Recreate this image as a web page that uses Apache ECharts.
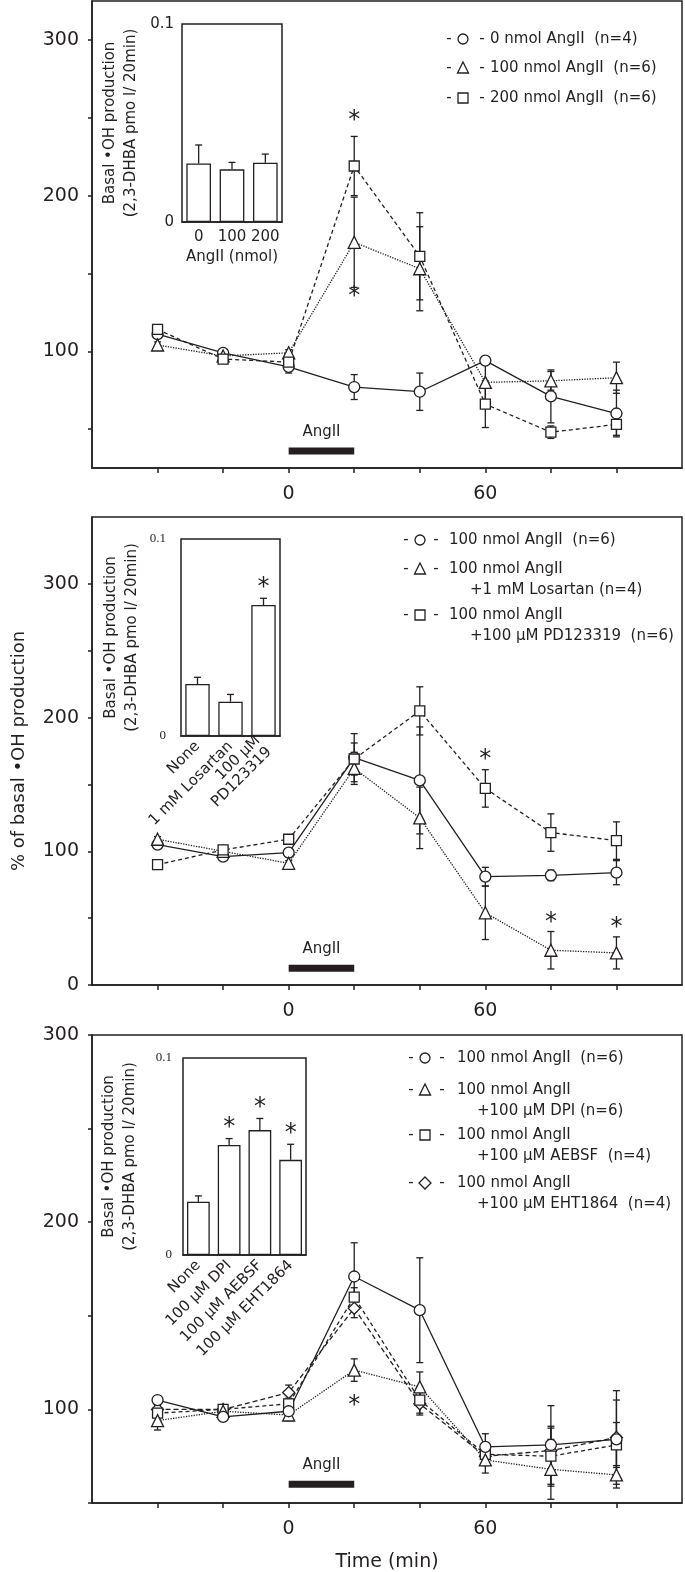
<!DOCTYPE html>
<html lang="en">
<head>
<meta charset="UTF-8">
<title>AngII OH production</title>
<script src="https://cdn.jsdelivr.net/npm/echarts@6/dist/echarts.min.js"></script>
<style>
  html, body { margin: 0; padding: 0; background: #fff; }
</style>
</head>
<body>
<div id="main" style="width:685px;height:1572px;"></div>
<script>
// time points (min)
var times = [-40, -20, 0, 20, 40, 60, 80, 100];

// panel 1: AngII dose
var p1Ang0 = [111, 99, 90, 77, 74, 94, 71, 60];
var p1Ang0Err = [2, 2, 4, 8, 12, 2, 17, 15];
var p1Ang100 = [104, 97, 99, 170, 153, 80, 81, 83];
var p1Ang100Err = [2, 2, 2, 29, 27, 12, 6, 10];
var p1Ang200 = [114, 95, 93, 219, 161, 66, 48, 53];
var p1Ang200Err = [2, 2, 3, 19, 28, 15, 4, 7];
var p1Stars = [[20, 252], [20, 139]];
var p1Legend = [['0 nmol AngII  (n=4)'], ['100 nmol AngII  (n=6)'], ['200 nmol AngII  (n=6)']];

// panel 2: losartan / PD123319
var p2Ang = [105, 96, 99, 170, 153, 81, 82, 84];
var p2AngErr = [2, 2, 3, 18, 40, 7, 4, 9];
var p2Los = [109, 100, 91, 162, 125, 54, 26, 24];
var p2LosErr = [2, 2, 2, 12, 23, 20, 14, 12];
var p2PD = [90, 101, 109, 169, 205, 147, 114, 108];
var p2PDErr = [2, 2, 2, 12, 18, 14, 14, 14];
var p2Stars = [[60, 173], [80, 51], [100, 47]];
var p2Legend = [['100 nmol AngII  (n=6)'], ['100 nmol AngII', '+1 mM Losartan (n=4)'], ['100 nmol AngII', '+100 µM PD123319  (n=6)']];

// panel 3: DPI / AEBSF / EHT1864
var p3Ang = [105, 96, 99, 171, 153, 80, 81, 84];
var p3AngErr = [2, 2, 2, 18, 28, 7, 21, 26];
var p3DPI = [94, 99, 97, 121, 112, 73, 68, 65];
var p3DPIErr = [5, 2, 3, 6, 8, 7, 16, 5];
var p3AEBSF = [98, 100, 103, 160, 105, 76, 75, 81];
var p3AEBSFErr = [4, 2, 3, 5, 7, 4, 16, 12];
var p3EHT = [100, 100, 109, 154, 103, 75, 78, 85];
var p3EHTErr = [3, 2, 4, 5, 6, 5, 12, 20];
var p3Stars = [[20, 105]];
var p3Legend = [['100 nmol AngII  (n=6)'], ['100 nmol AngII', '+100 µM DPI (n=6)'], ['100 nmol AngII', '+100 µM AEBSF  (n=4)'], ['100 nmol AngII', '+100 µM EHT1864  (n=4)']];

// AngII application bar: [start, end, level] per panel
var angBars = [[0, 20, 36], [0, 20, 12.5], [0, 20, 60]];

// insets: basal OH production
var i1Cats = ['0', '100', '200'];
var i1Vals = [0.0296, 0.0266, 0.0299];
var i1Err = [0.0093, 0.0035, 0.0044];
var i1Stars = [];
var i2Cats = ['None', '1 mM Losartan', '100 µM\nPD123319'];
var i2Vals = [0.0264, 0.0174, 0.0665];
var i2Err = [0.0034, 0.0037, 0.0034];
var i2Stars = [2];
var i3Cats = ['None', '100 µM DPI', '100 µM AEBSF', '100 µM EHT1864'];
var i3Vals = [0.027, 0.0559, 0.0634, 0.0483];
var i3Err = [0.003, 0.0032, 0.0059, 0.0079];
var i3Stars = [1, 2, 3];

var INK = '#231f20';
var FONT = '"DejaVu Sans", sans-serif';

var chart = echarts.init(document.getElementById('main'));

function mainX(idx, withName) {
    var ax = {
        type: 'value', gridIndex: idx, min: -60, max: 120, interval: 20, position: 'bottom',
        axisLine: { onZero: false, lineStyle: { color: INK, width: 1.5 } },
        axisTick: { length: 5, lineStyle: { color: INK, width: 1.5 }, customValues: [-40, -20, 0, 20, 40, 60, 80, 100] },
        axisLabel: { customValues: [0, 60], fontSize: 19, color: INK, margin: 17, fontFamily: FONT },
        splitLine: { show: false }
    };
    if (withName) {
        ax.name = 'Time (min)';
        ax.nameLocation = 'middle';
        ax.nameGap = 50;
        ax.nameMoveOverlap = false;
        ax.nameTextStyle = { fontSize: 19, color: INK, fontFamily: FONT };
    }
    return ax;
}

function mainY(idx, min, max, ticks, labels, withName) {
    var ax = {
        type: 'value', gridIndex: idx, min: min, max: max, position: 'left',
        axisLine: { onZero: false, lineStyle: { color: INK, width: 1.5 } },
        axisTick: { length: 4, lineStyle: { color: INK, width: 1.5 }, customValues: ticks },
        axisLabel: { customValues: labels, fontSize: 19, color: INK, margin: 13, fontFamily: FONT },
        splitLine: { show: false }
    };
    if (withName) {
        ax.name = '% of basal •OH production';
        ax.nameLocation = 'middle';
        ax.nameGap = 64;
        ax.nameMoveOverlap = false;
        ax.nameTextStyle = { fontSize: 18, color: INK, fontFamily: FONT };
    }
    return ax;
}

function insetX(idx, cats, rotate, name) {
    var ax = {
        type: 'category', gridIndex: idx, data: cats, position: 'bottom',
        axisLine: { onZero: false, lineStyle: { color: INK, width: 1.5 } },
        axisTick: { show: false },
        axisLabel: { rotate: rotate, fontSize: 15, color: INK, margin: rotate ? 8 : 7, fontFamily: FONT, interval: 0, lineHeight: 16 }
    };
    if (name) {
        ax.name = name;
        ax.nameLocation = 'middle';
        ax.nameGap = 28;
        ax.nameMoveOverlap = false;
        ax.nameTextStyle = { fontSize: 15, color: INK, fontFamily: FONT };
    }
    return ax;
}

function insetY(idx, serif, gap, margin) {
    return {
        type: 'value', gridIndex: idx, min: 0, max: 0.1, interval: 0.05, position: 'left',
        axisLine: { onZero: false, lineStyle: { color: INK, width: 1.5 } },
        axisTick: { length: 4, lineStyle: { color: INK, width: 1.3 } },
        axisLabel: {
            customValues: [0, 0.1], color: INK, margin: margin,
            fontSize: serif ? 13 : 15,
            fontFamily: serif ? '"Liberation Serif", serif' : FONT
        },
        splitLine: { show: false },
        name: 'Basal •OH production\n(2,3-DHBA pmo l/ 20min)',
        nameLocation: 'middle', nameGap: gap, nameMoveOverlap: false,
        nameTextStyle: { fontSize: 15, lineHeight: 21, color: INK, fontFamily: FONT, align: 'center' }
    };
}

function lineSeries(idx, vals, symbol, size, dash) {
    return {
        type: 'line', xAxisIndex: idx, yAxisIndex: idx,
        data: times.map(function (t, i) { return [t, vals[i]]; }),
        symbol: symbol, symbolSize: size, showAllSymbol: true,
        lineStyle: { color: INK, width: 1.3, type: dash },
        itemStyle: { color: '#fff', borderColor: INK, borderWidth: 1.3 },
        z: 4, silent: true
    };
}

function errSeries(idx, vals, errs) {
    return {
        type: 'custom', xAxisIndex: idx, yAxisIndex: idx, z: 2, silent: true,
        data: times.map(function (t, i) { return [t, vals[i], errs[i]]; }),
        renderItem: function (params, api) {
            var x = api.value(0), y = api.value(1), e = api.value(2);
            var top = api.coord([x, y + e]), bot = api.coord([x, y - e]);
            var st = { stroke: INK, lineWidth: 1.3 };
            return {
                type: 'group', children: [
                    { type: 'line', shape: { x1: top[0], y1: top[1], x2: bot[0], y2: bot[1] }, style: st },
                    { type: 'line', shape: { x1: top[0] - 3.5, y1: top[1], x2: top[0] + 3.5, y2: top[1] }, style: st },
                    { type: 'line', shape: { x1: bot[0] - 3.5, y1: bot[1], x2: bot[0] + 3.5, y2: bot[1] }, style: st }
                ]
            };
        }
    };
}

function starSeries(idx, pts) {
    return {
        type: 'custom', xAxisIndex: idx, yAxisIndex: idx, z: 5, silent: true,
        data: pts,
        renderItem: function (params, api) {
            var p = api.coord([api.value(0), api.value(1)]);
            return { type: 'text', x: p[0], y: p[1] + 6, style: { text: '*', font: '24px ' + FONT, fill: INK, align: 'center', verticalAlign: 'middle' } };
        }
    };
}

function angSeries(idx, bar) {
    return {
        type: 'custom', xAxisIndex: idx, yAxisIndex: idx, z: 3, silent: true,
        data: [bar],
        renderItem: function (params, api) {
            var a = api.coord([api.value(0), api.value(2)]);
            var b = api.coord([api.value(1), api.value(2)]);
            return {
                type: 'group', children: [
                    { type: 'rect', shape: { x: a[0], y: a[1] - 3.5, width: b[0] - a[0], height: 7 }, style: { fill: INK } },
                    { type: 'text', x: (a[0] + b[0]) / 2, y: a[1] - 19, style: { text: 'AngII', font: '15px ' + FONT, fill: INK, align: 'center', verticalAlign: 'middle' } }
                ]
            };
        }
    };
}

function insetBars(idx, vals) {
    return {
        type: 'bar', xAxisIndex: idx, yAxisIndex: idx, data: vals, barWidth: '74%',
        itemStyle: { color: '#fff', borderColor: INK, borderWidth: 1.3 },
        z: 3, silent: true
    };
}

function insetErr(idx, vals, errs, stars) {
    return {
        type: 'custom', xAxisIndex: idx, yAxisIndex: idx, z: 4, silent: true,
        data: vals.map(function (v, i) { return [i, v, errs[i], stars.indexOf(i) >= 0 ? 1 : 0]; }),
        renderItem: function (params, api) {
            var i = api.value(0), v = api.value(1), e = api.value(2);
            var base = api.coord([i, v]), top = api.coord([i, v + e]);
            var st = { stroke: INK, lineWidth: 1.3 };
            var kids = [
                { type: 'line', shape: { x1: base[0], y1: base[1], x2: top[0], y2: top[1] }, style: st },
                { type: 'line', shape: { x1: top[0] - 3.5, y1: top[1], x2: top[0] + 3.5, y2: top[1] }, style: st }
            ];
            if (api.value(3)) {
                kids.push({ type: 'text', x: top[0], y: top[1] - 11, style: { text: '*', font: '24px ' + FONT, fill: INK, align: 'center', verticalAlign: 'middle' } });
            }
            return { type: 'group', children: kids };
        }
    };
}

// legend drawn as text plus outline symbols
function symShape(kind, cx, cy) {
    var st = { fill: 'none', stroke: INK, lineWidth: 1.3 };
    if (kind === 'circle') return { type: 'circle', shape: { cx: cx, cy: cy, r: 5 }, style: st };
    if (kind === 'rect') return { type: 'rect', shape: { x: cx - 5, y: cy - 5, width: 10, height: 10 }, style: st };
    if (kind === 'triangle') return { type: 'polygon', shape: { points: [[cx, cy - 6], [cx + 5.5, cy + 5], [cx - 5.5, cy + 5]] }, style: st };
    return { type: 'polygon', shape: { points: [[cx, cy - 6], [cx + 6, cy], [cx, cy + 6], [cx - 6, cy]] }, style: st };
}
function txt(s, x, y, align) {
    return { type: 'text', x: x, y: y, style: { text: s, font: '15px ' + FONT, fill: INK, align: align || 'left', verticalAlign: 'middle' } };
}
function legendBlock(pos, rows, syms) {
    var out = [];
    rows.forEach(function (lines, i) {
        var y = pos.ys[i];
        out.push(txt('-', pos.d1, y, 'center'));
        out.push(symShape(syms[i], pos.s, y));
        out.push(txt('-', pos.d2, y, 'center'));
        out.push(txt(lines[0], pos.t, y));
        if (lines[1]) out.push(txt(lines[1], pos.t2, y + 21));
    });
    return out;
}

var graphics = []
    .concat(legendBlock({ d1: 449, s: 463, d2: 482, t: 490, t2: 0, ys: [39, 68, 98] }, p1Legend, ['circle', 'triangle', 'rect']))
    .concat(legendBlock({ d1: 406, s: 420, d2: 436, t: 449, t2: 470, ys: [540, 569, 615] }, p2Legend, ['circle', 'triangle', 'rect']))
    .concat(legendBlock({ d1: 411, s: 425, d2: 442, t: 457, t2: 477, ys: [1058, 1090, 1135, 1183] }, p3Legend, ['circle', 'triangle', 'rect', 'diamond']));

var gridStyle = { show: true, borderColor: INK, borderWidth: 1.5, backgroundColor: 'transparent', containLabel: false, outerBoundsMode: 'none' };
function grid(l, t, w, h) {
    return Object.assign({ left: l, top: t, width: w, height: h }, gridStyle);
}

var option = {
    animation: false,
    textStyle: { fontFamily: FONT, color: INK },
    grid: [
        grid(92, 1, 590, 467),
        grid(92, 517, 590, 468),
        grid(92, 1035, 590, 468),
        grid(182, 24, 100, 198),
        grid(181, 539, 99, 197),
        grid(183, 1058, 123, 197)
    ],
    xAxis: [
        mainX(0, false), mainX(1, false), mainX(2, true),
        insetX(3, i1Cats, 0, 'AngII (nmol)'), insetX(4, i2Cats, 45, null), insetX(5, i3Cats, 45, null)
    ],
    yAxis: [
        mainY(0, 25, 325, [50, 100, 150, 200, 250, 300], [100, 200, 300], false),
        mainY(1, 0, 350, [0, 50, 100, 150, 200, 250, 300], [0, 100, 200, 300], true),
        mainY(2, 50, 300, [50, 100, 150, 200, 250, 300], [100, 200, 300], false),
        insetY(3, false, 40, 8), insetY(4, true, 38, 15), insetY(5, true, 42, 11)
    ],
    graphic: graphics,
    series: [
        errSeries(0, p1Ang0, p1Ang0Err), errSeries(0, p1Ang100, p1Ang100Err), errSeries(0, p1Ang200, p1Ang200Err),
        lineSeries(0, p1Ang0, 'circle', 11, 'solid'),
        lineSeries(0, p1Ang100, 'triangle', 12, 'dotted'),
        lineSeries(0, p1Ang200, 'rect', 10, [4, 3]),
        starSeries(0, p1Stars), angSeries(0, angBars[0]),

        errSeries(1, p2Ang, p2AngErr), errSeries(1, p2Los, p2LosErr), errSeries(1, p2PD, p2PDErr),
        lineSeries(1, p2Ang, 'circle', 11, 'solid'),
        lineSeries(1, p2Los, 'triangle', 12, 'dotted'),
        lineSeries(1, p2PD, 'rect', 10, [4, 3]),
        starSeries(1, p2Stars), angSeries(1, angBars[1]),

        errSeries(2, p3Ang, p3AngErr), errSeries(2, p3DPI, p3DPIErr), errSeries(2, p3AEBSF, p3AEBSFErr), errSeries(2, p3EHT, p3EHTErr),
        lineSeries(2, p3EHT, 'diamond', 12, [5, 3]),
        lineSeries(2, p3AEBSF, 'rect', 10, [4, 3]),
        lineSeries(2, p3DPI, 'triangle', 12, 'dotted'),
        lineSeries(2, p3Ang, 'circle', 11, 'solid'),
        starSeries(2, p3Stars), angSeries(2, angBars[2]),

        insetBars(3, i1Vals), insetErr(3, i1Vals, i1Err, i1Stars),
        insetBars(4, i2Vals), insetErr(4, i2Vals, i2Err, i2Stars),
        insetBars(5, i3Vals), insetErr(5, i3Vals, i3Err, i3Stars)
    ]
};

chart.setOption(option);
</script>
</body>
</html>
